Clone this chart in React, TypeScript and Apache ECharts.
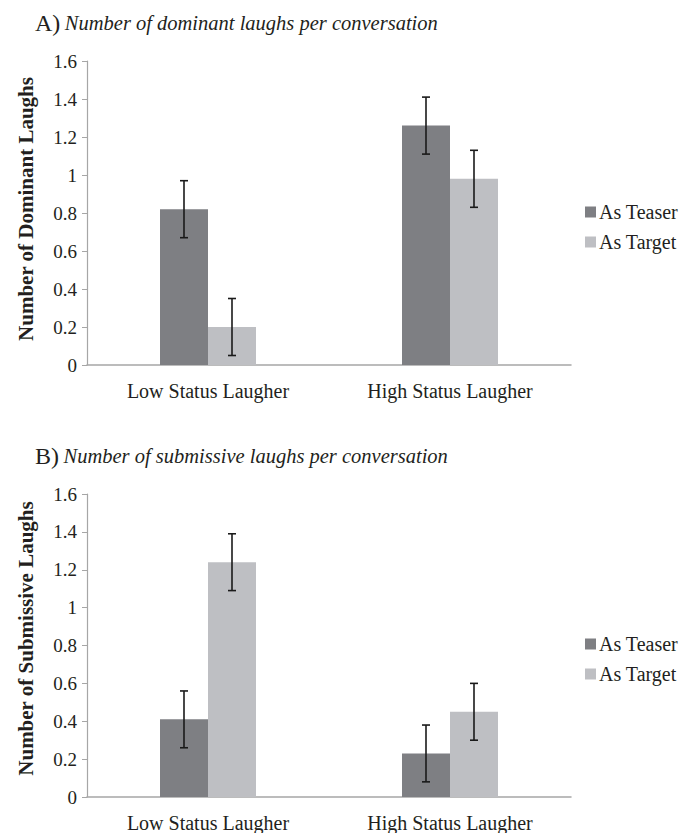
import React, { useEffect, useRef } from "react";
import * as echarts from "echarts";

const categories = ["Low Status Laugher", "High Status Laugher"];
const seriesNames = ["As Teaser", "As Target"];

const dominantTeaser = [0.82, 1.26];
const dominantTarget = [0.2, 0.98];
const dominantTeaserErr = [0.15, 0.15];
const dominantTargetErr = [0.15, 0.15];

const submissiveTeaser = [0.41, 0.23];
const submissiveTarget = [1.24, 0.45];
const submissiveTeaserErr = [0.15, 0.15];
const submissiveTargetErr = [0.15, 0.15];

const panelLetters = ["A)", "B)"];
const panelTitles = [
  "Number of dominant laughs per conversation",
  "Number of submissive laughs per conversation",
];
const yAxisTitles = ["Number of Dominant Laughs", "Number of Submissive Laughs"];

const yMin = 0;
const yMax = 1.6;
const yInterval = 0.2;

const TEASER_COLOR = "#7e7f83";
const TARGET_COLOR = "#bebfc3";
const AXIS_COLOR = "#a6a6a6";
const TEXT_COLOR = "#231f20";
const FONT = "Liberation Serif, Times New Roman, serif";
const BAR_WIDTH = 48;

export default function App() {
  const ref = useRef<HTMLDivElement>(null);

  useEffect(() => {
    document.body.style.margin = "0";
    if (!ref.current) return;
    const chart = echarts.init(ref.current, null, { renderer: "svg" });

    const grids = [
      { left: 87, top: 61, width: 484, height: 304 },
      { left: 87, top: 494, width: 484, height: 304 },
    ];
    const namePads = [[0, 0, 0, 8], [0, 0, 0, 14]];

    const data = [
      { teaser: dominantTeaser, target: dominantTarget, te: dominantTeaserErr, ta: dominantTargetErr },
      { teaser: submissiveTeaser, target: submissiveTarget, te: submissiveTeaserErr, ta: submissiveTargetErr },
    ];

    const makeErr = (idx: number, values: number[], errs: number[], side: number) => ({
      type: "custom",
      xAxisIndex: idx,
      yAxisIndex: idx,
      silent: true,
      z: 10,
      data: values.map((v, i) => [i, v - errs[i], v + errs[i]]),
      renderItem: (params: any, api: any) => {
        const ci = api.value(0);
        const lo = api.coord([ci, api.value(1)]);
        const hi = api.coord([ci, api.value(2)]);
        const x = lo[0] + side * (BAR_WIDTH / 2);
        const cap = 4;
        const style = { stroke: "#1a1a1a", lineWidth: 1.6 };
        return {
          type: "group",
          children: [
            { type: "line", shape: { x1: x, y1: lo[1], x2: x, y2: hi[1] }, style },
            { type: "line", shape: { x1: x - cap, y1: lo[1], x2: x + cap, y2: lo[1] }, style },
            { type: "line", shape: { x1: x - cap, y1: hi[1], x2: x + cap, y2: hi[1] }, style },
          ],
        };
      },
    });

    const series: any[] = [];
    data.forEach((d, idx) => {
      series.push({
        name: seriesNames[0],
        type: "bar",
        xAxisIndex: idx,
        yAxisIndex: idx,
        data: d.teaser,
        barWidth: BAR_WIDTH,
        barGap: "0%",
        itemStyle: { color: TEASER_COLOR },
      });
      series.push({
        name: seriesNames[1],
        type: "bar",
        xAxisIndex: idx,
        yAxisIndex: idx,
        data: d.target,
        barWidth: BAR_WIDTH,
        barGap: "0%",
        itemStyle: { color: TARGET_COLOR },
      });
      series.push(makeErr(idx, d.teaser, d.te, -1));
      series.push(makeErr(idx, d.target, d.ta, 1));
    });

    const legendTops = [197, 629];

    const option: any = {
      animation: false,
      backgroundColor: "#ffffff",
      textStyle: { fontFamily: FONT, color: TEXT_COLOR },
      title: grids.map((g, i) => ({
        text: `{a|${panelLetters[i]}} {b|${panelTitles[i]}}`,
        left: 30,
        top: g.top - 55,
        textStyle: {
          fontWeight: "normal",
          fontFamily: FONT,
          rich: {
            a: { fontFamily: FONT, fontSize: 24, fontWeight: "normal", color: TEXT_COLOR },
            b: { fontFamily: FONT, fontSize: 20.5, fontWeight: "normal", fontStyle: "italic", color: TEXT_COLOR },
          },
        },
      })),
      legend: grids.map((g, i) => ({
        data: seriesNames,
        orient: "vertical",
        left: 580,
        top: legendTops[i],
        icon: "rect",
        itemWidth: 11,
        itemHeight: 11,
        itemGap: 10,
        selectedMode: false,
        textStyle: { fontFamily: FONT, fontSize: 20, color: TEXT_COLOR, padding: [0, 0, 0, -2] },
      })),
      grid: grids.map((g) => ({ ...g, containLabel: false })),
      xAxis: grids.map((g, i) => ({
        type: "category",
        gridIndex: i,
        data: categories,
        axisLine: { show: true, lineStyle: { color: AXIS_COLOR, width: 1.5 } },
        axisTick: { show: false },
        axisLabel: { fontFamily: FONT, fontSize: 20, color: TEXT_COLOR, margin: 16 },
        splitLine: { show: false },
      })),
      yAxis: grids.map((g, i) => ({
        type: "value",
        gridIndex: i,
        min: yMin,
        max: yMax,
        interval: yInterval,
        name: yAxisTitles[i],
        nameLocation: "middle",
        nameRotate: 90,
        nameGap: 51,
        nameTextStyle: {
          fontFamily: FONT,
          fontSize: 21,
          fontWeight: "bold",
          color: TEXT_COLOR,
          padding: namePads[i],
        },
        axisLine: { show: true, lineStyle: { color: AXIS_COLOR, width: 1.2 } },
        axisTick: { show: true, length: 5, lineStyle: { color: AXIS_COLOR } },
        axisLabel: {
          fontFamily: FONT,
          fontSize: 19,
          color: TEXT_COLOR,
          margin: 10,
          formatter: (v: number) => String(Number(v.toFixed(1))),
        },
        splitLine: { show: false },
      })),
      series,
    };

    chart.setOption(option);
    return () => chart.dispose();
  }, []);

  return <div ref={ref} style={{ width: 688, height: 833 }} />;
}
